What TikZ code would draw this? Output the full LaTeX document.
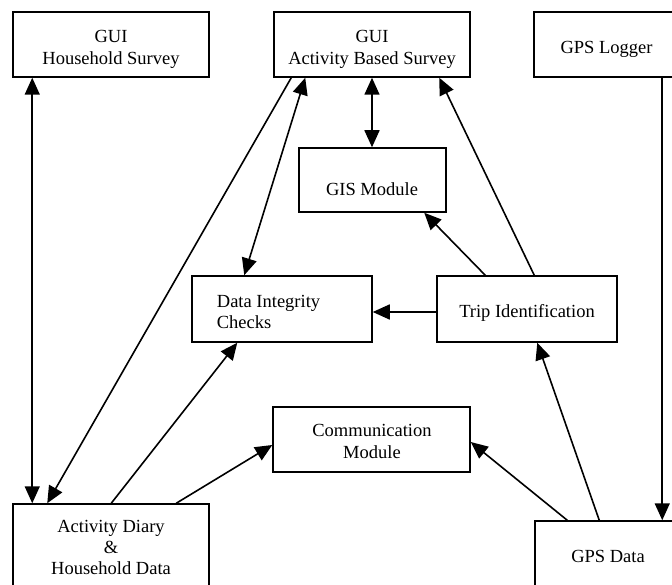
\documentclass[tikz,border=0pt]{standalone}
\usepackage{fontspec}
\setmainfont{Liberation Serif}
\usetikzlibrary{arrows.meta,calc}
\begin{document}
\begin{tikzpicture}[x=1pt,y=-1pt,
  box/.style={draw,line width=1.5pt,rectangle,inner sep=0pt},
  txt/.style={inner sep=0pt,anchor=base,font=\fontsize{18.5}{21.3}\selectfont},
  conn/.style={line width=1.6pt},
  bigtip/.style={arrows={-Triangle[length=17pt,width=15pt]}},
  bigtips/.style={arrows={Triangle[length=17pt,width=15pt]-Triangle[length=17pt,width=15pt]}}]
\useasboundingbox (0,0) rectangle (672,585);
\clip (0,0) rectangle (672,585);
\fill[white] (0,0) rectangle (672,585);
% boxes
\node[box,minimum width=196pt,minimum height=65pt] (hh) at (111,44.5) {};
\node[box,minimum width=196pt,minimum height=65pt] (abs) at (372,44.5) {};
\node[box,minimum width=146pt,minimum height=65pt] (log) at (607,44.5) {};
\node[box,minimum width=147pt,minimum height=64pt] (gis) at (372.5,180) {};
\node[box,minimum width=180pt,minimum height=66pt] (dic) at (282,309) {};
\node[box,minimum width=180pt,minimum height=66pt] (trip) at (527,309) {};
\node[box,minimum width=197pt,minimum height=65pt] (comm) at (371.5,439.5) {};
\node[box,minimum width=196pt,minimum height=96pt] (diary) at (111,552) {};
\node[box,minimum width=145pt,minimum height=79pt] (gpsd) at (607.5,560.5) {};
% texts
\node[txt] (hh-t) at (111,43) {\begin{tabular}[t]{@{}c@{}}GUI\\Household Survey\end{tabular}};
\node[txt] (abs-t) at (372,43) {\begin{tabular}[t]{@{}c@{}}GUI\\Activity Based Survey\end{tabular}};
\node[txt] (log-t) at (606.5,54) {GPS Logger};
\node[txt] (gis-t) at (372,195.5) {GIS Module};
\node[txt,anchor=base west] (dic-t) at (216.7,307.5) {\begin{tabular}[t]{@{}l@{}}Data Integrity\\Checks\end{tabular}};
\node[txt] (trip-t) at (527,317.3) {Trip Identification};
\node[txt] (comm-t) at (372,436.7) {\begin{tabular}[t]{@{}c@{}}Communication\\Module\end{tabular}};
\node[txt] (diary-t) at (111,532.3) {\begin{tabular}[t]{@{}c@{}}Activity Diary\\\&\\Household Data\end{tabular}};
\node[txt] (gpsd-t) at (608,562.3) {GPS Data};
% connectors
\draw[conn,bigtips] ($(hh.south west)+(20,0)$) -- ($(diary.north west)+(20,0)$);
\draw[conn,bigtip] ($(abs.south west)+(18,0)$) -- ($(diary.north west)+(35,0)$);
\draw[conn,bigtips] ($(abs.south west)+(32,0)$) -- ($(dic.north west)+(53,0)$);
\draw[conn,bigtips] (abs.south) -- (abs.south |- gis.north);
\draw[conn,bigtip] ($(trip.north west)+(49,0)$) -- ($(gis.south west)+(126,0)$);
\draw[conn,bigtip] ($(trip.north west)+(98,0)$) -- ($(abs.south west)+(166,0)$);
\draw[conn,bigtip] ($(trip.west)+(0,3)$) -- ($(dic.east)+(0,3)$);
\draw[conn,bigtip] ($(diary.north west)+(99,0)$) -- ($(dic.south west)+(46,0)$);
\draw[conn,bigtip] ($(diary.north west)+(164,0)$) -- ($(comm.west)+(0,5.5)$);
\draw[conn,bigtip] ($(gpsd.north west)+(33,0)$) -- ($(comm.east)+(0,2.5)$);
\draw[conn,bigtip] ($(gpsd.north west)+(65,0)$) -- ($(trip.south west)+(101,0)$);
\draw[conn,bigtip] ($(log.south west)+(129,0)$) -- ($(gpsd.north west)+(128,0)$);
\end{tikzpicture}
\end{document}
